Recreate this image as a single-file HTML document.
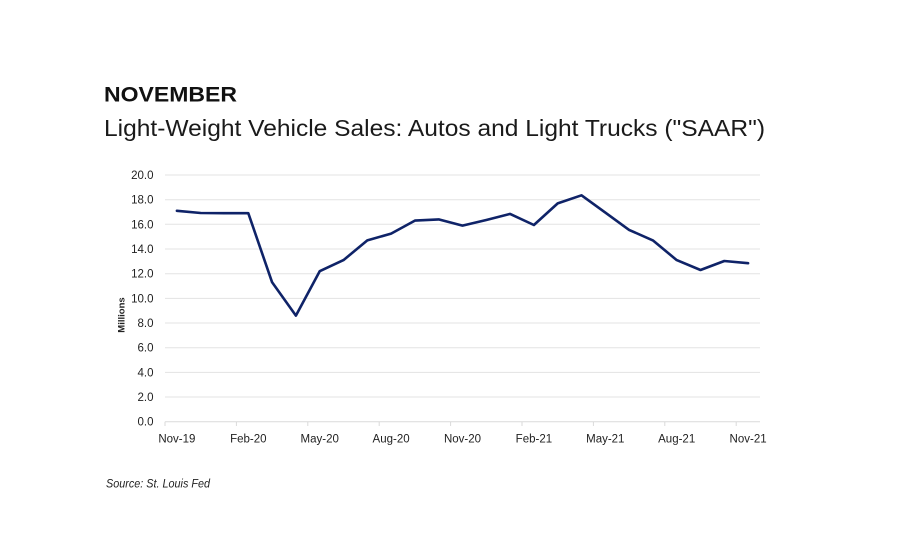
<!DOCTYPE html>
<html>
<head>
<meta charset="utf-8">
<style>
  html, body { margin: 0; padding: 0; background: #ffffff; }
  body { width: 900px; height: 548px; overflow: hidden; }
  svg { display: block; }
  text { font-family: "Liberation Sans", "DejaVu Sans", sans-serif; }
</style>
</head>
<body>
<svg width="900" height="548" viewBox="0 0 900 548" xmlns="http://www.w3.org/2000/svg">
  <rect width="900" height="548" fill="#ffffff"/>

  <!-- Titles -->
  <text x="104" y="101.7" font-size="21" font-weight="bold" fill="#111111" textLength="133" lengthAdjust="spacingAndGlyphs">NOVEMBER</text>
  <text x="104" y="136" font-size="23" fill="#1a1a1a" textLength="661" lengthAdjust="spacingAndGlyphs">Light-Weight Vehicle Sales: Autos and Light Trucks ("SAAR")</text>

  <!-- Gridlines -->
  <g stroke="#e3e3e3" stroke-width="1">
    <line x1="165" y1="175.0" x2="760" y2="175.0"/>
    <line x1="165" y1="199.7" x2="760" y2="199.7"/>
    <line x1="165" y1="224.3" x2="760" y2="224.3"/>
    <line x1="165" y1="249.0" x2="760" y2="249.0"/>
    <line x1="165" y1="273.7" x2="760" y2="273.7"/>
    <line x1="165" y1="298.4" x2="760" y2="298.4"/>
    <line x1="165" y1="323.0" x2="760" y2="323.0"/>
    <line x1="165" y1="347.7" x2="760" y2="347.7"/>
    <line x1="165" y1="372.4" x2="760" y2="372.4"/>
    <line x1="165" y1="397.0" x2="760" y2="397.0"/>
  </g>
  <!-- X axis -->
  <line x1="165" y1="421.7" x2="760" y2="421.7" stroke="#dadada" stroke-width="1"/>
  <g stroke="#dadada" stroke-width="1">
    <line x1="165" y1="421.7" x2="165" y2="426"/>
    <line x1="236.4" y1="421.7" x2="236.4" y2="426"/>
    <line x1="307.8" y1="421.7" x2="307.8" y2="426"/>
    <line x1="379.2" y1="421.7" x2="379.2" y2="426"/>
    <line x1="450.6" y1="421.7" x2="450.6" y2="426"/>
    <line x1="522.0" y1="421.7" x2="522.0" y2="426"/>
    <line x1="593.4" y1="421.7" x2="593.4" y2="426"/>
    <line x1="664.8" y1="421.7" x2="664.8" y2="426"/>
    <line x1="736.2" y1="421.7" x2="736.2" y2="426"/>
  </g>

  <!-- Y labels -->
  <g font-size="11.5" fill="#222222" text-anchor="end">
    <text x="153.5" y="179.0">20.0</text>
    <text x="153.5" y="203.7">18.0</text>
    <text x="153.5" y="228.3">16.0</text>
    <text x="153.5" y="253.0">14.0</text>
    <text x="153.5" y="277.7">12.0</text>
    <text x="153.5" y="302.4">10.0</text>
    <text x="153.5" y="327.0">8.0</text>
    <text x="153.5" y="351.7">6.0</text>
    <text x="153.5" y="376.4">4.0</text>
    <text x="153.5" y="401.0">2.0</text>
    <text x="153.5" y="425.7">0.0</text>
  </g>

  <!-- Y axis title -->
  <text transform="translate(124.5,315) rotate(-90)" font-size="9.5" font-weight="bold" fill="#222222" text-anchor="middle">Millions</text>

  <!-- X labels -->
  <g font-size="11.5" fill="#222222" text-anchor="middle">
    <text x="176.9" y="442.3">Nov-19</text>
    <text x="248.3" y="442.3">Feb-20</text>
    <text x="319.7" y="442.3">May-20</text>
    <text x="391.1" y="442.3">Aug-20</text>
    <text x="462.5" y="442.3">Nov-20</text>
    <text x="533.9" y="442.3">Feb-21</text>
    <text x="605.3" y="442.3">May-21</text>
    <text x="676.7" y="442.3">Aug-21</text>
    <text x="748.1" y="442.3">Nov-21</text>
  </g>

  <!-- Data series -->
  <polyline fill="none" stroke="#0f2368" stroke-width="2.6" stroke-linejoin="round" stroke-linecap="round"
    points="176.9,210.8 200.7,213.0 224.5,213.2 248.3,213.2 272.1,282.3 295.9,315.6 319.7,271.2 343.5,260.1 367.3,240.4 391.1,233.6 414.9,220.6 438.7,219.4 462.5,225.6 486.3,220.0 510.1,213.9 533.9,225.0 557.7,203.4 581.5,195.3 605.3,212.6 629.1,229.9 652.9,240.4 676.7,260.1 700.5,270.0 724.3,261.0 748.1,263.2"/>

  <!-- Source -->
  <text x="106" y="487.3" font-size="11.5" font-style="italic" fill="#222222" textLength="104" lengthAdjust="spacingAndGlyphs">Source: St. Louis Fed</text>
</svg>
</body>
</html>
